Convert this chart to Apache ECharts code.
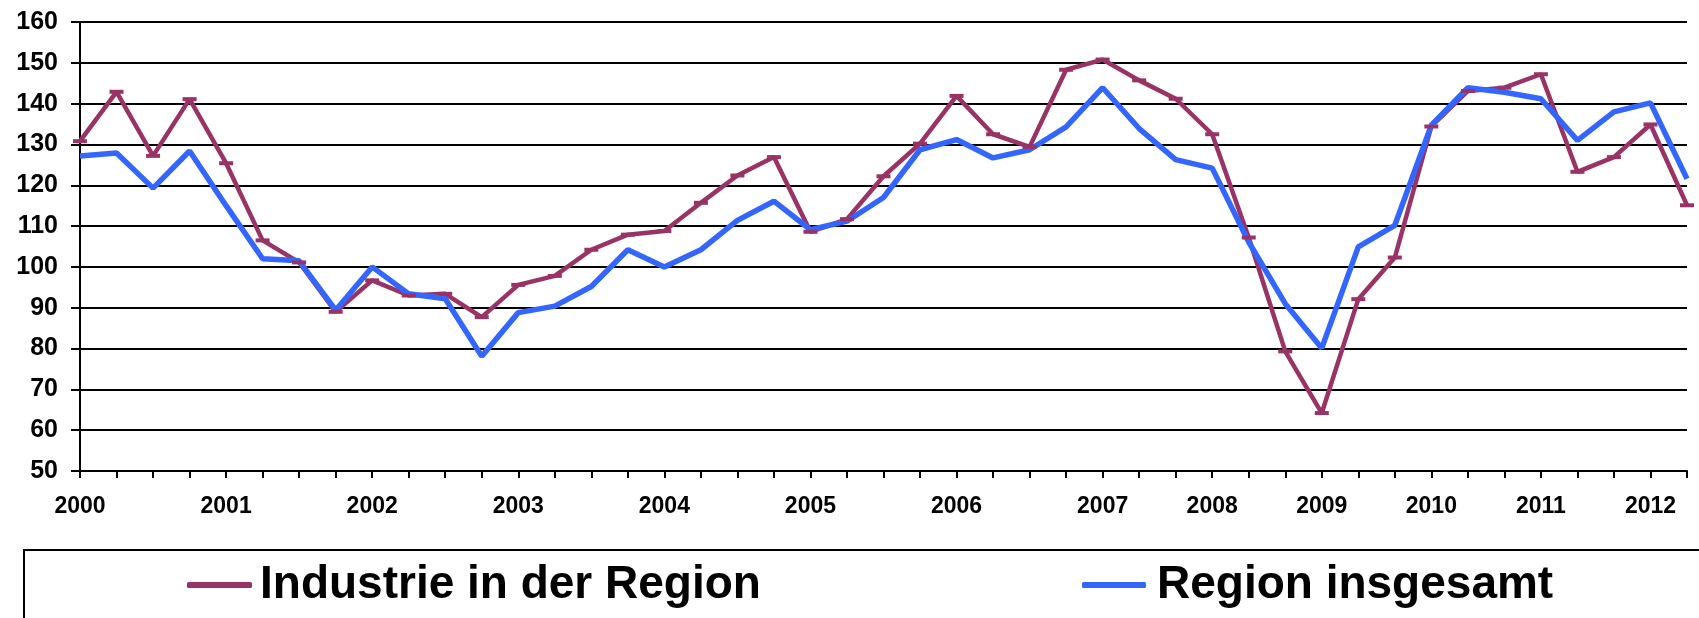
<!DOCTYPE html>
<html>
<head>
<meta charset="utf-8">
<script src="https://cdn.jsdelivr.net/npm/echarts@6/dist/echarts.min.js"></script>
<style>
  html, body { margin: 0; padding: 0; background: #fff; }
  #chart { width: 1699px; height: 618px; }
</style>
</head>
<body>
<div id="chart"></div>
<script>
// x axis categories (one per data point, only some carry a year label)
const xLabels = [
  '2000', '', '', '', '2001', '', '', '', '2002', '', '', '', '2003', '', '', '',
  '2004', '', '', '', '2005', '', '', '', '2006', '', '', '', '2007', '', '',
  '2008', '', '', '2009', '', '', '2010', '', '', '2011', '', '', '2012', ''
]
const seriesNames = ['Industrie in der Region', 'Region insgesamt']
const industrie = [
  130.8, 142.9, 127.2, 141.1, 125.4, 106.5, 101.1, 89.0, 96.7, 93.0,
  93.4, 87.7, 95.6, 97.8, 104.2, 107.9, 108.8, 115.7, 122.4, 126.9,
  108.6, 111.7, 122.2, 130.2, 141.9, 132.5, 129.4, 148.3, 150.8, 145.7,
  141.2, 132.5, 107.2, 79.3, 64.2, 92.1, 102.3, 134.4, 143.1, 143.9,
  147.2, 123.3, 126.9, 134.9, 115.1
]
const region = [
  127.2, 127.9, 119.3, 128.4, 115.0, 102.0, 101.5, 89.4, 100.0, 93.4,
  92.2, 78.1, 88.8, 90.4, 95.2, 104.2, 100.0, 104.2, 111.4, 116.1,
  109.1, 111.2, 117.0, 128.7, 131.2, 126.7, 128.7, 134.3, 143.9, 133.9,
  126.3, 124.2, 106.1, 91.0, 80.1, 104.9, 110.2, 134.7, 143.9, 142.8,
  141.2, 131.0, 138.0, 140.2, 121.6
]

const font = "'Liberation Sans', Arial, sans-serif"
const chart = echarts.init(document.getElementById('chart'))

chart.setOption({
  animation: false,
  backgroundColor: '#fff',
  grid: {
    left: 80,
    right: 12,
    top: 22,
    bottom: 147
  },
  legend: [
    {
      data: [seriesNames[0]],
      left: 187,
      top: 562,
      padding: 0,
      icon: 'roundRect',
      itemWidth: 65,
      itemHeight: 6,
      textStyle: { fontFamily: font, fontSize: 46, fontWeight: 'bold', color: '#000', padding: [16, 0, 0, 3] }
    },
    {
      data: [seriesNames[1]],
      left: 1082,
      top: 562,
      padding: 0,
      icon: 'roundRect',
      itemWidth: 64,
      itemHeight: 6,
      textStyle: { fontFamily: font, fontSize: 46, fontWeight: 'bold', color: '#000', padding: [16, 0, 0, 6] }
    }
  ],
  graphic: [
    {
      type: 'rect',
      z: -1,
      shape: { x: 24, y: 550, width: 1700, height: 100 },
      style: { fill: 'none', stroke: '#000', lineWidth: 2 }
    }
  ],
  xAxis: {
    type: 'category',
    data: xLabels,
    boundaryGap: false,
    axisLine: { lineStyle: { color: '#000', width: 2 } },
    axisTick: { interval: 0, length: 7, lineStyle: { color: '#000', width: 2 } },
    axisLabel: {
      interval: 0,
      margin: 24,
      fontFamily: font,
      fontSize: 23,
      fontWeight: 'bold',
      color: '#000'
    },
    splitLine: { show: false }
  },
  yAxis: {
    type: 'value',
    min: 50,
    max: 160,
    interval: 10,
    axisLine: { show: true, lineStyle: { color: '#000', width: 2 } },
    axisTick: { show: true, length: 9, lineStyle: { color: '#000', width: 2 } },
    axisLabel: {
      margin: 22,
      fontFamily: font,
      fontSize: 25,
      fontWeight: 'bold',
      color: '#000'
    },
    splitLine: { lineStyle: { color: '#000', width: 2 } }
  },
  series: [
    {
      name: seriesNames[0],
      type: 'line',
      data: industrie,
      color: '#993366',
      symbol: 'rect',
      symbolSize: [14, 4],
      showAllSymbol: true,
      lineStyle: { width: 4.5, color: '#993366' },
      itemStyle: { color: '#993366' }
    },
    {
      name: seriesNames[1],
      type: 'line',
      data: region,
      color: '#3366ff',
      symbol: 'none',
      lineStyle: { width: 5.5, color: '#3366ff' },
      itemStyle: { color: '#3366ff' }
    }
  ]
})
</script>
</body>
</html>
